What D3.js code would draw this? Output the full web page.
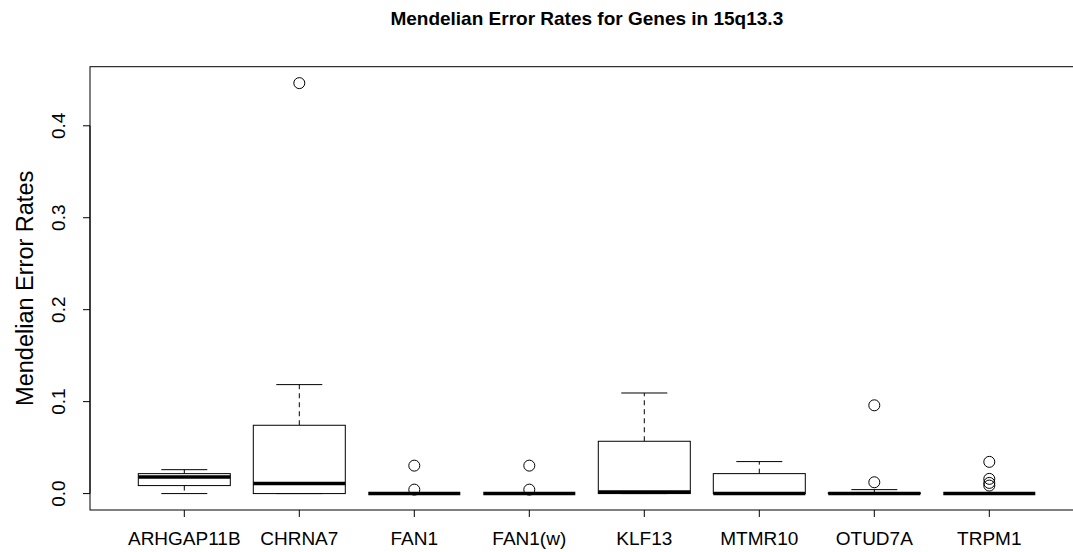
<!DOCTYPE html>
<html>
<head>
<meta charset="utf-8">
<script src="https://cdn.jsdelivr.net/npm/d3@7"></script>
<style>
  body { margin: 0; background: #fff; }
  svg { font-family: "Liberation Sans", Arial, sans-serif; display: block; }
</style>
</head>
<body>
<svg id="chart"></svg>
<script>
const width = 1073;
const height = 552;

// --- Data ---
const genes = ["ARHGAP11B", "CHRNA7", "FAN1", "FAN1(w)", "KLF13", "MTMR10", "OTUD7A", "TRPM1"];
const whiskerLow = [0, 0, 0, 0, 0, 0, 0, 0];
const q1 = [0.0087, 0, 0, 0, 0, 0, 0, 0];
const median = [0.018, 0.0109, 0, 0, 0.0018, 0, 0, 0];
const q3 = [0.0217, 0.0743, 0, 0, 0.0569, 0.0217, 0.0008, 0];
const whiskerHigh = [0.026, 0.1185, 0, 0, 0.1094, 0.0348, 0.0043, 0];
const outliers = [
  [],
  [0.4464],
  [0.0304, 0.0043],
  [0.0304, 0.0043],
  [],
  [],
  [0.096, 0.0123],
  [0.0345, 0.016, 0.0116, 0.0087]
];
const yTicks = [0, 0.1, 0.2, 0.3, 0.4];

const boxes = genes.map((g, i) => ({
  gene: g, pos: i + 1,
  lo: whiskerLow[i], q1: q1[i], med: median[i], q3: q3[i], hi: whiskerHigh[i],
  out: outliers[i]
}));

const svg = d3.select("#chart")
  .attr("width", width)
  .attr("height", height);

// R-style plot region (xlim/ylim padded by 4%)
const plotLeft = 90, plotTop = 66.7, plotBottom = 510;
const xDom = [0.5 - 0.32, genes.length + 0.5 + 0.32];
const x = d3.scaleLinear().domain(xDom).range([plotLeft, plotLeft + 115 * (xDom[1] - xDom[0])]);
const yMax = 0.4464;
const y = d3.scaleLinear().domain([-0.04 * yMax, yMax * 1.04]).range([plotBottom, plotTop]);

const boxHalf = 0.4, stapleHalf = 0.2;

// --- Title ---
svg.append("text")
  .attr("x", (x.range()[0] + x.range()[1]) / 2)
  .attr("y", 25)
  .attr("text-anchor", "middle")
  .attr("font-weight", "bold")
  .attr("font-size", 19)
  .text("Mendelian Error Rates for Genes in 15q13.3");

// --- Plot frame ---
svg.append("rect")
  .attr("x", x.range()[0])
  .attr("y", plotTop)
  .attr("width", x.range()[1] - x.range()[0])
  .attr("height", plotBottom - plotTop)
  .attr("fill", "none")
  .attr("stroke", "#000")
  .attr("stroke-width", 1);

// --- Y axis ---
const gy = svg.append("g");
gy.selectAll("line")
  .data(yTicks)
  .join("line")
  .attr("x1", plotLeft).attr("x2", plotLeft - 7)
  .attr("y1", d => y(d)).attr("y2", d => y(d))
  .attr("stroke", "#000");
gy.append("line")
  .attr("x1", plotLeft).attr("x2", plotLeft)
  .attr("y1", y(0)).attr("y2", y(0.4))
  .attr("stroke", "#000");
gy.selectAll("text")
  .data(yTicks)
  .join("text")
  .attr("transform", d => `translate(65, ${y(d)}) rotate(-90)`)
  .attr("text-anchor", "middle")
  .attr("font-size", 19)
  .text(d => d3.format(".1f")(d));

svg.append("text")
  .attr("transform", `translate(33, ${(plotTop + plotBottom) / 2}) rotate(-90)`)
  .attr("text-anchor", "middle")
  .attr("font-size", 23.5)
  .text("Mendelian Error Rates");

// --- X axis ---
const gx = svg.append("g");
gx.selectAll("line")
  .data(boxes)
  .join("line")
  .attr("x1", d => x(d.pos)).attr("x2", d => x(d.pos))
  .attr("y1", plotBottom).attr("y2", plotBottom + 7)
  .attr("stroke", "#000");
gx.selectAll("text")
  .data(boxes)
  .join("text")
  .attr("x", d => x(d.pos))
  .attr("y", 545)
  .attr("text-anchor", "middle")
  .attr("font-size", 19)
  .text(d => d.gene);

// --- Boxes ---
const gBox = svg.append("g").selectAll("g")
  .data(boxes)
  .join("g");

// whiskers (dashed)
gBox.append("line")
  .attr("x1", d => x(d.pos)).attr("x2", d => x(d.pos))
  .attr("y1", d => y(d.q3)).attr("y2", d => y(d.hi))
  .attr("stroke", "#000").attr("stroke-dasharray", "5,4");
gBox.append("line")
  .attr("x1", d => x(d.pos)).attr("x2", d => x(d.pos))
  .attr("y1", d => y(d.q1)).attr("y2", d => y(d.lo))
  .attr("stroke", "#000").attr("stroke-dasharray", "5,4");

// staples
gBox.append("line")
  .attr("x1", d => x(d.pos - stapleHalf)).attr("x2", d => x(d.pos + stapleHalf))
  .attr("y1", d => y(d.hi)).attr("y2", d => y(d.hi))
  .attr("stroke", "#000");
gBox.append("line")
  .attr("x1", d => x(d.pos - stapleHalf)).attr("x2", d => x(d.pos + stapleHalf))
  .attr("y1", d => y(d.lo)).attr("y2", d => y(d.lo))
  .attr("stroke", "#000");

// box
gBox.append("rect")
  .attr("x", d => x(d.pos - boxHalf))
  .attr("width", d => x(d.pos + boxHalf) - x(d.pos - boxHalf))
  .attr("y", d => y(d.q3))
  .attr("height", d => y(d.q1) - y(d.q3))
  .attr("fill", "#fff")
  .attr("stroke", "#000");

// median
gBox.append("line")
  .attr("x1", d => x(d.pos - boxHalf)).attr("x2", d => x(d.pos + boxHalf))
  .attr("y1", d => y(d.med)).attr("y2", d => y(d.med))
  .attr("stroke", "#000").attr("stroke-width", 3.5);

// outliers
gBox.selectAll("circle")
  .data(d => d.out.map(v => ({ pos: d.pos, v })))
  .join("circle")
  .attr("cx", d => x(d.pos))
  .attr("cy", d => y(d.v))
  .attr("r", 5.5)
  .attr("fill", "none")
  .attr("stroke", "#000");
</script>
</body>
</html>
